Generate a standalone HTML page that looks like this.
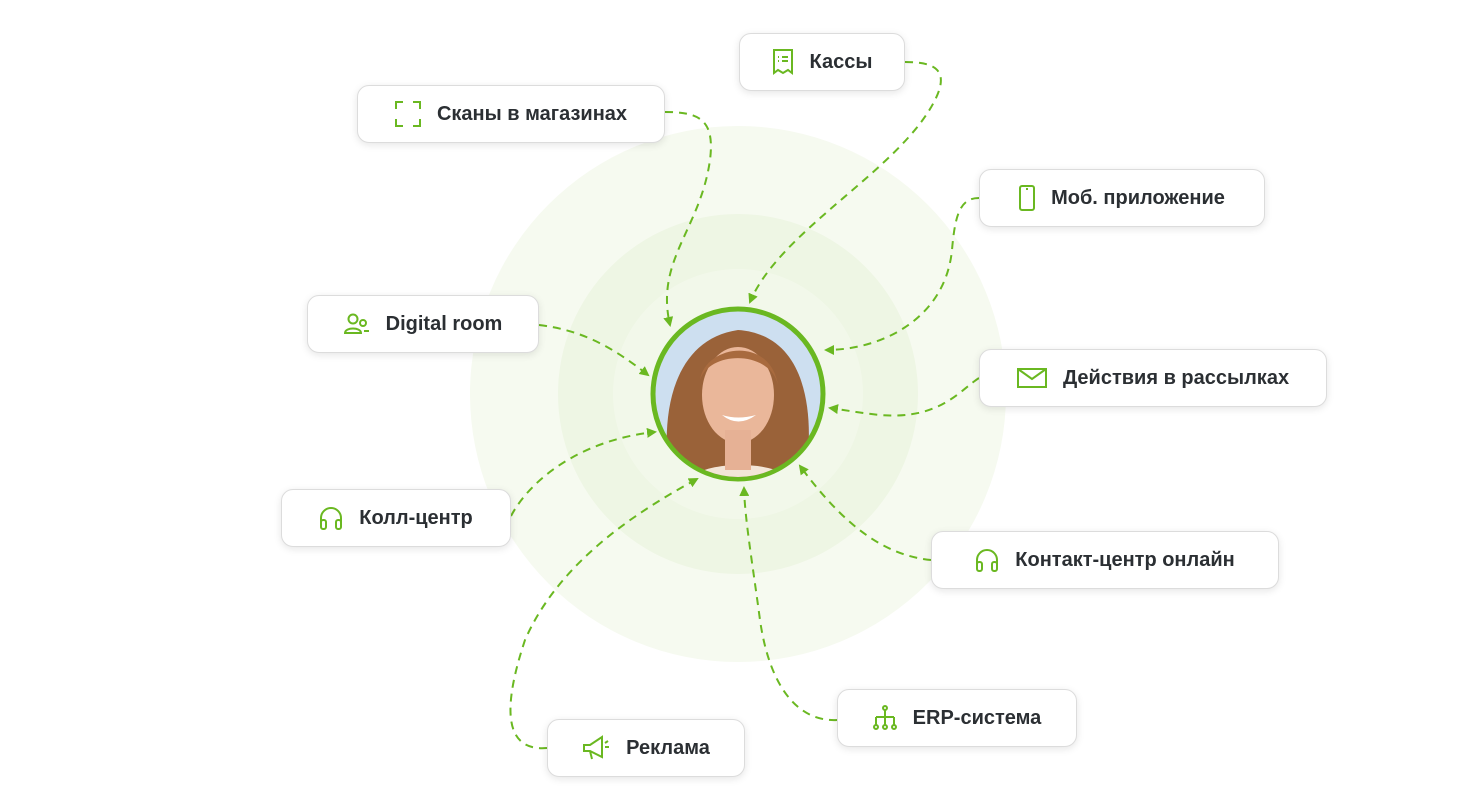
<!DOCTYPE html>
<html><head><meta charset="utf-8"><style>
body{margin:0;width:1474px;height:788px;background:#fff;position:relative;overflow:hidden;font-family:"Liberation Sans",sans-serif}
.b{position:absolute;height:58px;background:#fff;border:1.5px solid #dcdcdc;border-radius:12px;box-shadow:0 2px 8px rgba(0,0,0,.10);box-sizing:border-box;display:flex;align-items:center;justify-content:center;font-weight:bold;font-size:20px;color:#2b2f33;gap:16px}
.b svg{flex:none}
</style></head><body>
<svg width="1474" height="788" style="position:absolute;left:0;top:0">
<defs><marker id="a" markerWidth="10" markerHeight="10" refX="8" refY="5" orient="auto" markerUnits="userSpaceOnUse"><path d="M0,0 L10,5 L0,10z" fill="#6ab821"/></marker></defs>
<circle cx="738" cy="394" r="268" fill="#f6faf0"/>
<circle cx="738" cy="394" r="180" fill="#eef6e4"/>
<circle cx="738" cy="394" r="125" fill="#f2f8ea"/>
<g fill="none" stroke="#6ab821" stroke-width="2" stroke-dasharray="8 6" marker-end="url(#a)">
<path d="M665,112 C700,112 715,120 710,160 C700,230 655,260 670,325"/>
<path d="M905,62 C935,62 950,70 935,100 C900,170 780,230 750,302"/>
<path d="M979,198 C960,198 955,215 952,250 C945,320 880,350 826,350"/>
<path d="M539,325 C580,330 610,345 648,375"/>
<path d="M979,378 C960,390 940,420 880,415 C860,413 845,410 830,408"/>
<path d="M511,516 C530,480 580,440 655,432"/>
<path d="M931,560 C880,555 840,520 800,466"/>
<path d="M837,720 C800,722 770,690 760,620 C752,560 745,520 744,488"/>
<path d="M547,748 C500,752 505,700 525,640 C560,560 640,510 697,479"/>
</g>
<circle cx="738" cy="394" r="85" fill="#cddff0" stroke="#6ab821" stroke-width="5"/>
<clipPath id="c"><circle cx="738" cy="394" r="83"/></clipPath>
<g clip-path="url(#c)">
<path d="M670,480 C660,420 670,340 738,330 C810,335 815,420 805,480z" fill="#9a6239"/>
<path d="M690,480 C700,460 780,460 790,480z" fill="#f3e6d8"/>
<ellipse cx="738" cy="395" rx="36" ry="48" fill="#eab79a"/>
<rect x="725" y="430" width="26" height="40" fill="#e6b195"/>
<path d="M700,380 C705,345 770,335 778,385 C770,350 710,350 700,380z" fill="#a86a3e"/>
<path d="M722,415 Q738,428 756,415 Q738,420 722,415z" fill="#fff"/>
</g>
</svg>
<div class="b" style="left:739px;top:33px;width:166px"><svg width="22" height="26" viewBox="0 0 22 26" fill="none" stroke="#6ab821" stroke-width="2"><path d="M2,1 H20 V24 L16,21 L11,24 L6,21 L2,24z"/><path d="M6,8h1M10,8h6M6,12h1M10,12h6"/></svg>Кассы</div>
<div class="b" style="left:357px;top:85px;width:308px"><svg width="26" height="26" viewBox="0 0 26 26" fill="none" stroke="#6ab821" stroke-width="2"><path d="M1,8V1H8M18,1H25V8M25,18V25H18M8,25H1V18"/></svg>Сканы в магазинах</div>
<div class="b" style="left:979px;top:169px;width:286px"><svg width="16" height="26" viewBox="0 0 16 26" fill="none" stroke="#6ab821" stroke-width="2"><rect x="1" y="1" width="14" height="24" rx="2"/><path d="M7,4h2"/></svg>Моб. приложение</div>
<div class="b" style="left:307px;top:295px;width:232px"><svg width="26" height="22" viewBox="0 0 26 22" fill="none" stroke="#6ab821" stroke-width="2"><circle cx="9" cy="6" r="4.5"/><path d="M1,20c0-6 16-6 16,0z"/><circle cx="19" cy="10" r="3"/><path d="M20,18h5"/></svg>Digital room</div>
<div class="b" style="left:979px;top:349px;width:348px"><svg width="30" height="20" viewBox="0 0 30 20" fill="none" stroke="#6ab821" stroke-width="2"><rect x="1" y="1" width="28" height="18"/><path d="M1,1 L15,11 L29,1"/></svg>Действия в рассылках</div>
<div class="b" style="left:281px;top:489px;width:230px"><svg width="24" height="24" viewBox="0 0 24 24" fill="none" stroke="#6ab821" stroke-width="2"><path d="M2,20V12a10,10 0 0 1 20,0v8"/><rect x="2" y="14" width="5" height="9" rx="2"/><rect x="17" y="14" width="5" height="9" rx="2"/></svg>Колл-центр</div>
<div class="b" style="left:931px;top:531px;width:348px"><svg width="24" height="24" viewBox="0 0 24 24" fill="none" stroke="#6ab821" stroke-width="2"><path d="M2,20V12a10,10 0 0 1 20,0v8"/><rect x="2" y="14" width="5" height="9" rx="2"/><rect x="17" y="14" width="5" height="9" rx="2"/></svg>Контакт-центр онлайн</div>
<div class="b" style="left:837px;top:689px;width:240px"><svg width="24" height="26" viewBox="0 0 24 26" fill="none" stroke="#6ab821" stroke-width="2"><circle cx="12" cy="3" r="2"/><path d="M12,5v7M3,12h18M3,12v8M12,12v8M21,12v8"/><circle cx="3" cy="22" r="2"/><circle cx="12" cy="22" r="2"/><circle cx="21" cy="22" r="2"/></svg>ERP-система</div>
<div class="b" style="left:547px;top:719px;width:198px"><svg width="28" height="26" viewBox="0 0 28 26" fill="none" stroke="#6ab821" stroke-width="2"><path d="M2,10h6l12-8v20l-12-6h-6z"/><path d="M8,16l2,8"/><path d="M23,8l3-2M23,12h4"/></svg>Реклама</div>
</body></html>
